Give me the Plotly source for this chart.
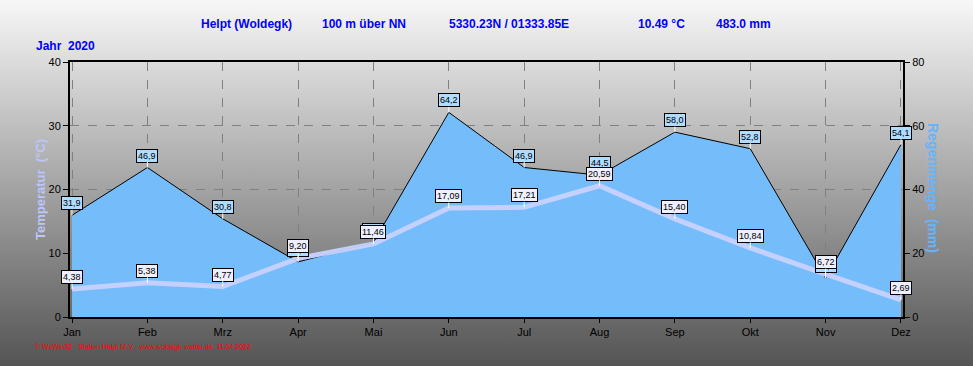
import base64
import plotly.graph_objects as go

months = ["Jan", "Feb", "Mrz", "Apr", "Mai", "Jun", "Jul", "Aug", "Sep", "Okt", "Nov", "Dez"]
rain_mm = [31.9, 46.9, 30.8, 17.3, 23.4, 64.2, 46.9, 44.5, 58.0, 52.8, 12.2, 54.1]
temp_c = [4.38, 5.38, 4.77, 9.20, 11.46, 17.09, 17.21, 20.59, 15.40, 10.84, 6.72, 2.69]
temp_ticks = [0, 10, 20, 30, 40]
rain_ticks = [0, 20, 40, 60, 80]

W, H = 973, 366
ML, MR, MT, MB = 70, 70, 62, 49
PW, PH = W - ML - MR, H - MT - MB


def px(x):
    return (x - ML) / PW


def py(y):
    return (H - MB - y) / PH


FONT = "Liberation Sans, Arial, sans-serif"

fig = go.Figure()
fig.add_trace(go.Scatter(
    x=months, y=rain_mm, yaxis="y", mode="lines",
    line=dict(color="black", width=1), fill="tozeroy", fillcolor="#74bdfa",
    hoverinfo="skip", showlegend=False))
fig.add_trace(go.Scatter(
    x=months, y=temp_c, yaxis="y2", mode="lines",
    line=dict(color="rgba(200,210,255,0.95)", width=5),
    hoverinfo="skip", showlegend=False))

annotations = []
for m, v in zip(months, rain_mm):
    annotations.append(dict(
        x=m, y=v, xref="x", yref="y", text=f"{v:.1f}".replace(".", ","),
        showarrow=True, arrowhead=0, arrowwidth=1, arrowcolor="white", ax=0, ay=-12,
        font=dict(family=FONT, size=9, color="black"),
        bgcolor="#b0dcff", bordercolor="black", borderwidth=1, borderpad=1))
for m, v in zip(months, temp_c):
    annotations.append(dict(
        x=m, y=v, xref="x", yref="y2", text=f"{v:.2f}".replace(".", ","),
        showarrow=True, arrowhead=0, arrowwidth=1, arrowcolor="white", ax=0, ay=-12,
        font=dict(family=FONT, size=9, color="black"),
        bgcolor="#eef0ff", bordercolor="black", borderwidth=1, borderpad=1))

title_parts = [
    ("Helpt (Woldegk)", 199),
    ("100 m über NN", 320),
    ("5330.23N / 01333.85E", 447),
    ("10.49 °C", 636),
    ("483.0 mm", 714),
]
for t, xpos in title_parts:
    annotations.append(dict(
        x=px(xpos), y=py(24), xref="paper", yref="paper", text=f"<b>{t}</b>",
        showarrow=False, xanchor="left", yanchor="middle",
        font=dict(family=FONT, size=12, color="#0000ff")))
annotations.append(dict(
    x=px(34), y=py(46), xref="paper", yref="paper", text="<b>Jahr  2020</b>",
    showarrow=False, xanchor="left", yanchor="middle",
    font=dict(family=FONT, size=12, color="#0000ff")))
annotations.append(dict(
    x=px(40), y=py(190), xref="paper", yref="paper", text="<b>Temperatur  (°C)</b>",
    showarrow=False, textangle=-90, xanchor="center", yanchor="middle",
    font=dict(family=FONT, size=13, color="#bcc6fa")))
annotations.append(dict(
    x=px(933), y=py(188), xref="paper", yref="paper", text="<b>Regenmenge  (mm)</b>",
    showarrow=False, textangle=90, xanchor="center", yanchor="middle",
    font=dict(family=FONT, size=14, color="#64b4ff")))
annotations.append(dict(
    x=px(33), y=py(347), xref="paper", yref="paper",
    text="© WsWin32 - Station Helpt M-V - www.woldegk-wetter.de  11.04.2022",
    showarrow=False, xanchor="left", yanchor="middle",
    font=dict(family=FONT, size=7, color="#ff0000")))

svg = ('<svg xmlns="http://www.w3.org/2000/svg" width="10" height="366" viewBox="0 0 10 366" '
       'preserveAspectRatio="none"><defs><linearGradient id="g" x1="0" y1="0" x2="0" y2="1">'
       '<stop offset="0" stop-color="#f7f7f7"/><stop offset="1" stop-color="#545454"/>'
       '</linearGradient></defs><rect width="10" height="366" fill="url(#g)"/></svg>')
src = "data:image/svg+xml;base64," + base64.b64encode(svg.encode()).decode()

fig.update_layout(
    width=W, height=H,
    margin=dict(l=ML, r=MR, t=MT, b=MB, pad=0),
    paper_bgcolor="#a0a0a0", plot_bgcolor="rgba(0,0,0,0)",
    images=[dict(source=src, xref="paper", yref="paper", x=-ML / PW, y=1 + MT / PH,
                 sizex=W / PW, sizey=H / PH, xanchor="left", yanchor="top",
                 sizing="stretch", layer="below")],
    xaxis=dict(type="category", categoryorder="array", categoryarray=months,
               range=[-0.027, 11.027], showgrid=True, gridcolor="#808080", griddash="dash",
               gridwidth=1, showline=True, linecolor="black", linewidth=2, mirror=True,
               ticks="outside", ticklen=4, tickcolor="black",
               tickfont=dict(family=FONT, size=11, color="black"), zeroline=False),
    yaxis=dict(side="right", range=[0, 80], tickvals=rain_ticks, showgrid=True,
               gridcolor="#808080", griddash="dash", gridwidth=1, showline=True,
               linecolor="black", linewidth=2, ticks="outside", ticklen=5,
               tickcolor="black", tickfont=dict(family=FONT, size=11, color="black"),
               zeroline=False),
    yaxis2=dict(overlaying="y", side="left", range=[0, 40], tickvals=temp_ticks,
                showgrid=False, showline=True, linecolor="black", linewidth=2,
                ticks="outside", ticklen=5, tickcolor="black",
                tickfont=dict(family=FONT, size=11, color="black"), zeroline=False),
    annotations=annotations,
)

fig.write_html("out.html",
               config={"displayModeBar": False},
               post_script="document.body.style.margin='0';document.body.style.padding='0';")
